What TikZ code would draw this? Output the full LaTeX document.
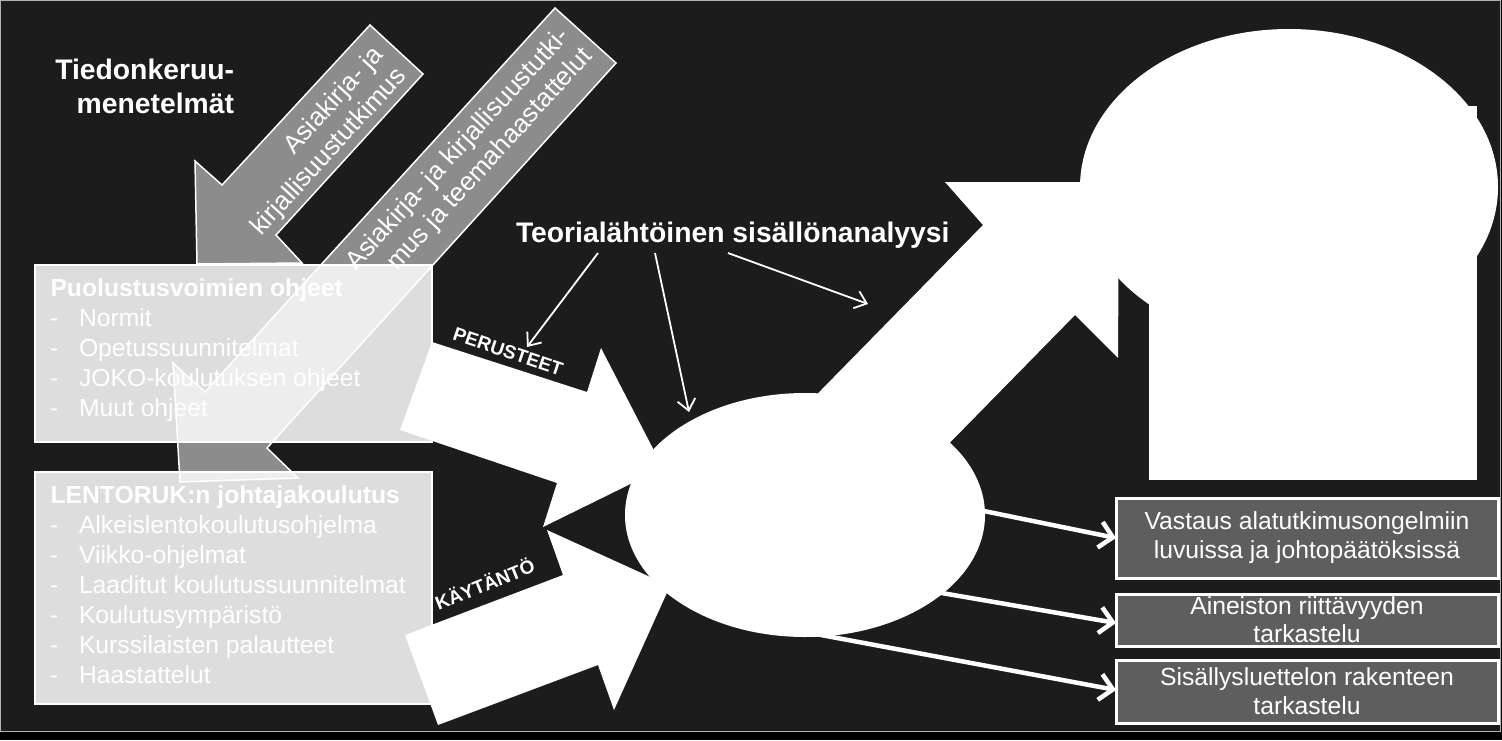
\documentclass[tikz,border=0pt]{standalone}
\usepackage{fontspec}
\setmainfont{Liberation Sans}
\usetikzlibrary{arrows.meta,shapes.geometric}
\definecolor{bgdark}{HTML}{1C1C1C}
\definecolor{arrgray}{HTML}{8C8C8C}
\definecolor{boxdark}{HTML}{5E5E5E}
\begin{document}
\begin{tikzpicture}[x=1pt,y=-1pt,
  every node/.style={inner sep=0pt, outer sep=0pt},
  grayarrow/.style={fill=arrgray, draw=white, line width=1.5pt, line join=miter},
  arrtext/.style={text=white, rotate=47.6, align=right, font=\fontsize{26}{30.5}\selectfont},
  lightbox/.style={rectangle, draw=white, line width=2pt, fill=white, fill opacity=0.85, draw opacity=1, anchor=north west},
  boxtitle/.style={text=white, anchor=base west, font=\bfseries\fontsize{24.7}{29.6}\selectfont},
  boxitem/.style={text=white, anchor=base west, font=\fontsize{24.7}{29.6}\selectfont},
  bigtitle/.style={text=white, font=\bfseries\fontsize{28.3}{34}\selectfont},
  whiteshape/.style={fill=white},
  arrlabel/.style={text=white, anchor=base, font=\bfseries\fontsize{19}{22}\selectfont},
  thinarr/.style={draw=white, line width=1.8pt, -{Straight Barb[length=11pt,width=18pt]}},
  outarr/.style={draw=white, line width=4.5pt, -{Straight Barb[length=13pt,width=26pt]}},
  darkbox/.style={rectangle, draw=white, line width=3pt, fill=boxdark, anchor=north west},
  darktext/.style={text=white, anchor=base, font=\fontsize{24.7}{29}\selectfont}
]
% background
\fill[black] (0,0) rectangle (1502,740);
\path[use as bounding box] (0,0) rectangle (1502,740);
\draw[fill=bgdark, draw=white!70!black, line width=1pt] (0.5,0.5) rectangle (1500.5,731);

% heading
\node[bigtitle, anchor=base east] (tk1) at (234,79) {Tiedonkeruu-};
\node[bigtitle, anchor=base east] (tk2) at (234,113.3) {menetelmät};

% gray arrows
\draw[grayarrow] (370,25) -- (423,74) -- (276,235) -- (302,263) -- (197,264) -- (195,161) -- (222,185) -- cycle;
\node[arrtext, anchor=east] (a1t) at (391,62) {Asiakirja- ja\\kirjallisuustutkimus};
\draw[grayarrow] (555,8) -- (616,63) -- (267,448) -- (298,478) -- (180,482) -- (173,363) -- (205,392) -- cycle;
\node[arrtext, anchor=east] (a2t) at (577,42.5) {Asiakirja- ja kirjallisuustutki-\\mus ja teemahaastattelut};

% left boxes
\node[lightbox, minimum width=397pt, minimum height=177pt] (pv) at (35,265) {};
\node[boxtitle] (pvt) at (50.5,296.7) {Puolustusvoimien ohjeet};
\node[boxitem] (pvd1) at (50,326.7) {-};
\node[boxitem] (pv1) at (79,326.7) {Normit};
\node[boxitem] (pvd2) at (50,356.7) {-};
\node[boxitem] (pv2) at (79,356.7) {Opetussuunnitelmat};
\node[boxitem] (pvd3) at (50,386.7) {-};
\node[boxitem] (pv3) at (79,386.7) {JOKO-koulutuksen ohjeet};
\node[boxitem] (pvd4) at (50,416.7) {-};
\node[boxitem] (pv4) at (79,416.7) {Muut ohjeet};

\node[lightbox, minimum width=397pt, minimum height=232pt] (lk) at (35,472) {};
\node[boxtitle] (lkt) at (50.5,503.7) {LENTORUK:n johtajakoulutus};
\node[boxitem] (lkd1) at (50,533.7) {-};
\node[boxitem] (lk1) at (79,533.7) {Alkeislentokoulutusohjelma};
\node[boxitem] (lkd2) at (50,563.7) {-};
\node[boxitem] (lk2) at (79,563.7) {Viikko-ohjelmat};
\node[boxitem] (lkd3) at (50,593.7) {-};
\node[boxitem] (lk3) at (79,593.7) {Laaditut koulutussuunnitelmat};
\node[boxitem] (lkd4) at (50,623.7) {-};
\node[boxitem] (lk4) at (79,623.7) {Koulutusympäristö};
\node[boxitem] (lkd5) at (50,653.7) {-};
\node[boxitem] (lk5) at (79,653.7) {Kurssilaisten palautteet};
\node[boxitem] (lkd6) at (50,683.7) {-};
\node[boxitem] (lk6) at (79,683.7) {Haastattelut};

% white block arrows
\fill[whiteshape] (432,342) -- (587,392) -- (601,348) -- (663,468) -- (543,527) -- (557,483) -- (400,430) -- cycle;
\fill[whiteshape] (405,635) -- (563,575) -- (547,530) -- (670,586) -- (614,710) -- (598,665) -- (438,725) -- cycle;
\node[arrlabel, rotate=-18.5] (per) at (506,358) {PERUSTEET};
\node[arrlabel, rotate=22] (kay) at (487.5,591) {KÄYTÄNTÖ};

% diagonal arrow
\fill[whiteshape] (808,403.5) -- (983,225) -- (945,182) -- (1119,182) -- (1118,358) -- (1075,315) -- (900,493.5) -- cycle;

% ellipses and rectangle
\node[ellipse, whiteshape, minimum width=360pt, minimum height=244pt] (se) at (805,515) {};
\fill[whiteshape] (1149,106) rectangle (1477,480);
\node[ellipse, whiteshape, minimum width=418pt, minimum height=316pt] (be) at (1289,187) {};

% analysis label and connectors
\node[bigtitle, anchor=base west] (tea) at (516,242.7) {Teorialähtöinen sisällönanalyysi};
\coordinate (t1s) at (598,253);
\coordinate (t1e) at (527,347);
\coordinate (t2s) at (655,253);
\coordinate (t2e) at (689,412);
\coordinate (t3s) at (728,253);
\coordinate (t3e) at (868,304);
\draw[thinarr] (t1s) -- (t1e);
\draw[thinarr] (t2s) -- (t2e);
\draw[thinarr] (t3s) -- (t3e);

% right boxes
\node[darkbox, minimum width=382pt, minimum height=80pt] (ra) at (1116,498) {};
\node[darktext] (ra1) at (1307,529) {Vastaus alatutkimusongelmiin};
\node[darktext] (ra2) at (1307,558) {luvuissa ja johtopäätöksissä};
\node[darkbox, minimum width=382pt, minimum height=52pt] (rb) at (1116,594) {};
\node[darktext] (rb1) at (1307,614) {Aineiston riittävyyden};
\node[darktext] (rb2) at (1307,642.7) {tarkastelu};
\node[darkbox, minimum width=382pt, minimum height=63pt] (rc) at (1116,660) {};
\node[darktext] (rc1) at (1307,685) {Sisällysluettelon rakenteen};
\node[darktext] (rc2) at (1307,714) {tarkastelu};

% output arrows
\coordinate (o1) at (979,510);
\coordinate (o2) at (936,592);
\coordinate (o3) at (805,632);
\draw[outarr] (o1) -- ([yshift=0pt]ra.west);
\draw[outarr] (o2) -- ([yshift=-3pt]rb.west);
\draw[outarr] (o3) -- ([yshift=1.5pt]rc.west);
\end{tikzpicture}
\end{document}
